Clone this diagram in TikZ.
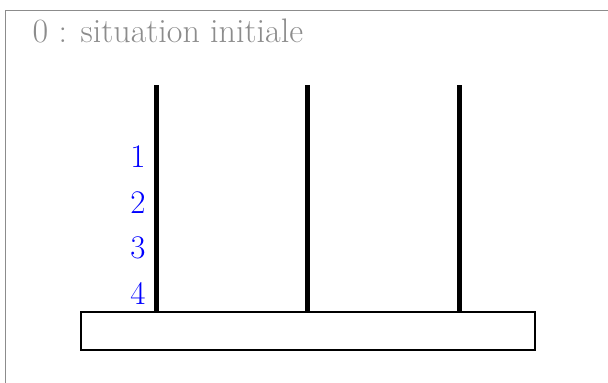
\documentclass[tikz,border=0pt]{standalone}
\usepackage{fontspec}
\begin{document}
\begin{tikzpicture}[x=1pt,y=-1pt,
  pole/.style={line width=5pt},
  basebox/.style={draw, line width=2pt, fill=white, inner sep=0pt, minimum width=454pt, minimum height=38pt},
  disklabel/.style={text=blue, font=\fontsize{33}{38}\selectfont, inner sep=0pt},
  titletext/.style={text=black!45, font=\fontsize{34}{40}\selectfont, inner sep=0pt, anchor=base west}]
\useasboundingbox (0,0) rectangle (608,383);
\draw[black!45, line width=1.2pt] (5.5,400) -- (5.5,10.5) -- (620,10.5);
\node[titletext] (title) at (32.5,42) {0 : situation initiale};
\coordinate (p1top) at (156.5,85);
\coordinate (p1bot) at (156.5,312);
\coordinate (p2top) at (307.5,85);
\coordinate (p2bot) at (307.5,312);
\coordinate (p3top) at (459,85);
\coordinate (p3bot) at (459,312);
\draw[pole] (p1top) -- (p1bot);
\draw[pole] (p2top) -- (p2bot);
\draw[pole] (p3top) -- (p3bot);
\node[basebox] (base) at (308,331) {};
\node[disklabel] (d1) at (138,156.5) {1};
\node[disklabel] (d2) at (138,203) {2};
\node[disklabel] (d3) at (138,248) {3};
\node[disklabel] (d4) at (138,293) {4};
\end{tikzpicture}
\end{document}
